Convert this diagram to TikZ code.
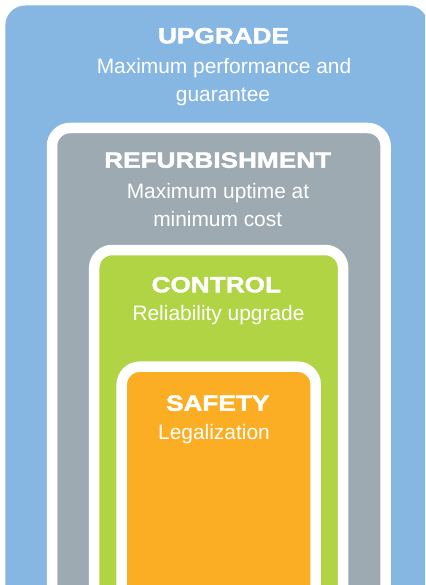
\documentclass[tikz,border=0pt]{standalone}
\usepackage{fontspec}
\setmainfont{Liberation Sans}
\newfontfamily\headfont[FakeStretch=1.19,FakeBold=2]{Liberation Sans Bold}
\definecolor{upblue}{RGB}{134,182,226}
\definecolor{refgray}{RGB}{158,170,178}
\definecolor{ctlgreen}{RGB}{176,212,68}
\definecolor{safeorange}{RGB}{251,174,36}
\tikzset{
  x=1pt, y=-1pt,
  layerbox/.style={draw=white, line width=10.5pt, rounded corners=18pt},
  headtxt/.style={anchor=base, inner sep=0pt, text=white, font=\headfont\fontsize{22}{26}\selectfont},
  subtxt/.style={anchor=base, inner sep=0pt, text=white, font=\fontsize{20.9}{24}\selectfont},
}
\begin{document}
\begin{tikzpicture}
\useasboundingbox (0,0) rectangle (425,585);
\clip (0,0) rectangle (425,585);
\fill[white] (0,0) rectangle (425,585);
% blue outer
\fill[upblue, rounded corners=20pt] (5.3,5.5) rectangle (428,640);
% gray
\path[layerbox, fill=refgray] (52,128) rectangle (385.6,640);
% green
\path[layerbox, fill=ctlgreen] (94.2,250) rectangle (343.1,640);
% orange
\path[layerbox, fill=safeorange] (121.7,366.7) rectangle (315.7,640);
% texts
\node[headtxt] (upg) at (223.5,43.3) {UPGRADE};
\node[subtxt] (upg1) at (224,74) {Maximum performance and};
\node[subtxt] (upg2) at (223,101.7) {guarantee};
\node[headtxt] (ref) at (217.7,167.7) {REFURBISHMENT};
\node[subtxt] (ref1) at (218,198.3) {Maximum uptime at};
\node[subtxt] (ref2) at (217.7,226) {minimum cost};
\node[headtxt] (ctl) at (216.3,292.3) {CONTROL};
\node[subtxt] (ctl1) at (218.5,320) {Reliability upgrade};
\node[headtxt] (saf) at (217.7,410.7) {SAFETY};
\node[subtxt] (saf1) at (214,439.3) {Legalization};
\end{tikzpicture}
\end{document}
